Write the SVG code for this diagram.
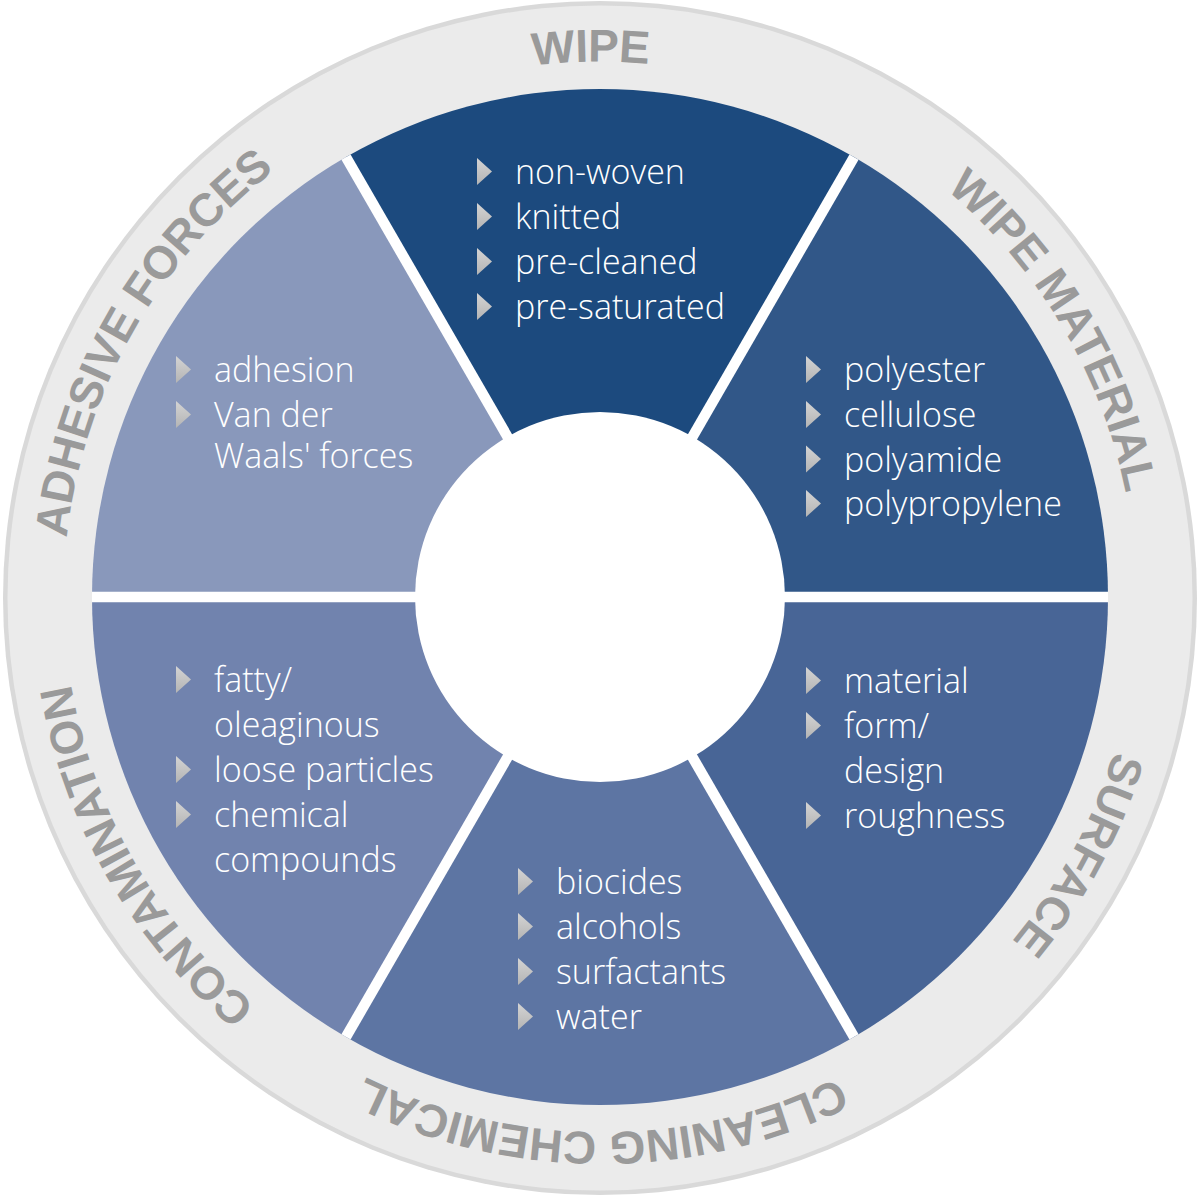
<svg xmlns="http://www.w3.org/2000/svg" xmlns:xlink="http://www.w3.org/1999/xlink" width="1200" height="1200" viewBox="0 0 1200 1200">
  <style>
    .ring-label { font-family: "Liberation Sans", Arial, sans-serif; font-weight: bold; font-size: 46px; letter-spacing: -0.4px; fill: #9a9a9a; }
    .item { font-family: "Open Sans", "Liberation Sans", sans-serif; font-weight: 300; font-size: 34px; fill: #ffffff; }
    .sep { stroke: #ffffff; stroke-width: 10.5; fill: none; }
  </style>
  <defs>
    <linearGradient id="bulletGrad" x1="0" y1="0" x2="0" y2="1">
      <stop offset="0" stop-color="#d4d4d4"/>
      <stop offset="1" stop-color="#b4b4b4"/>
    </linearGradient>
    <polygon id="bullet" points="0,-26 15,-12.5 0,1" fill="url(#bulletGrad)"/>
    <path id="ringPath" d="M 867 134.55 A 534 534 0 1 1 333 1059.45 A 534 534 0 1 1 867 134.55"/>
  </defs>

  <rect width="1200" height="1200" fill="#ffffff"/>

  <g id="ring">
    <circle cx="600" cy="598" r="597" fill="#d9d9d9"/>
    <circle cx="600" cy="598" r="592.5" fill="#ebebeb"/>
  </g>

  <g id="node-wipe">
    <path d="M600,597 L346,157.06 A508,508 0 0 1 854,157.06 Z" fill="#1c4a7e"/>
    <text class="ring-label"><textPath href="#ringPath" xlink:href="#ringPath" startOffset="3076" text-anchor="middle">WIPE</textPath></text>
    <use href="#bullet" xlink:href="#bullet" x="477" y="184"/>
    <use href="#bullet" xlink:href="#bullet" x="477" y="229"/>
    <use href="#bullet" xlink:href="#bullet" x="477" y="274"/>
    <use href="#bullet" xlink:href="#bullet" x="477" y="319"/>
    <text class="item" x="515" y="184">non-woven</text>
    <text class="item" x="515" y="229">knitted</text>
    <text class="item" x="515" y="274">pre-cleaned</text>
    <text class="item" x="515" y="319">pre-saturated</text>
  </g>

  <g id="node-wipe-material">
    <path d="M600,597 L854,157.06 A508,508 0 0 1 1108,597 Z" fill="#315788"/>
    <text class="ring-label"><textPath href="#ringPath" xlink:href="#ringPath" startOffset="276" text-anchor="middle">WIPE MATERIAL</textPath></text>
    <use href="#bullet" xlink:href="#bullet" x="806" y="382"/>
    <use href="#bullet" xlink:href="#bullet" x="806" y="427"/>
    <use href="#bullet" xlink:href="#bullet" x="806" y="471.5"/>
    <use href="#bullet" xlink:href="#bullet" x="806" y="516"/>
    <text class="item" x="844" y="382">polyester</text>
    <text class="item" x="844" y="427">cellulose</text>
    <text class="item" x="844" y="471.5">polyamide</text>
    <text class="item" x="844" y="516">polypropylene</text>
  </g>

  <g id="node-surface">
    <path d="M600,597 L1108,597 A508,508 0 0 1 854,1036.94 Z" fill="#486596"/>
    <text class="ring-label"><textPath href="#ringPath" xlink:href="#ringPath" startOffset="825" text-anchor="middle">SURFACE</textPath></text>
    <use href="#bullet" xlink:href="#bullet" x="806" y="693"/>
    <use href="#bullet" xlink:href="#bullet" x="806" y="738"/>
    <use href="#bullet" xlink:href="#bullet" x="806" y="828"/>
    <text class="item" x="844" y="693">material</text>
    <text class="item" x="844" y="738">form/</text>
    <text class="item" x="844" y="783">design</text>
    <text class="item" x="844" y="828">roughness</text>
  </g>

  <g id="node-cleaning-chemical">
    <path d="M600,597 L854,1036.94 A508,508 0 0 1 346,1036.94 Z" fill="#5d75a3"/>
    <text class="ring-label"><textPath href="#ringPath" xlink:href="#ringPath" startOffset="1401" text-anchor="middle">CLEANING CHEMICAL</textPath></text>
    <use href="#bullet" xlink:href="#bullet" x="518" y="894"/>
    <use href="#bullet" xlink:href="#bullet" x="518" y="939"/>
    <use href="#bullet" xlink:href="#bullet" x="518" y="984"/>
    <use href="#bullet" xlink:href="#bullet" x="518" y="1029"/>
    <text class="item" x="556" y="894">biocides</text>
    <text class="item" x="556" y="939">alcohols</text>
    <text class="item" x="556" y="984">surfactants</text>
    <text class="item" x="556" y="1029">water</text>
  </g>

  <g id="node-contamination">
    <path d="M600,597 L346,1036.94 A508,508 0 0 1 92,597 Z" fill="#7183ae"/>
    <text class="ring-label"><textPath href="#ringPath" xlink:href="#ringPath" startOffset="1966" text-anchor="middle">CONTAMINATION</textPath></text>
    <use href="#bullet" xlink:href="#bullet" x="176" y="692"/>
    <use href="#bullet" xlink:href="#bullet" x="176" y="782"/>
    <use href="#bullet" xlink:href="#bullet" x="176" y="827"/>
    <text class="item" x="214" y="692">fatty/</text>
    <text class="item" x="214" y="737">oleaginous</text>
    <text class="item" x="214" y="782">loose particles</text>
    <text class="item" x="214" y="827">chemical</text>
    <text class="item" x="214" y="872">compounds</text>
  </g>

  <g id="node-adhesive-forces">
    <path d="M600,597 L92,597 A508,508 0 0 1 346,157.06 Z" fill="#8998bb"/>
    <text class="ring-label"><textPath href="#ringPath" xlink:href="#ringPath" startOffset="2519" text-anchor="middle">ADHESIVE FORCES</textPath></text>
    <use href="#bullet" xlink:href="#bullet" x="176" y="382"/>
    <use href="#bullet" xlink:href="#bullet" x="176" y="427"/>
    <text class="item" x="214" y="382">adhesion</text>
    <text class="item" x="214" y="427">Van der</text>
    <text class="item" x="214" y="468">Waals' forces</text>
  </g>

  <g id="connectors">
    <line class="sep" x1="346" y1="157.06" x2="854" y2="1036.94"/>
    <line class="sep" x1="854" y1="157.06" x2="346" y2="1036.94"/>
    <line class="sep" x1="92" y1="597" x2="1108" y2="597"/>
  </g>

  <g id="hub">
    <circle cx="600" cy="597" r="185" fill="#ffffff"/>
  </g>
</svg>
